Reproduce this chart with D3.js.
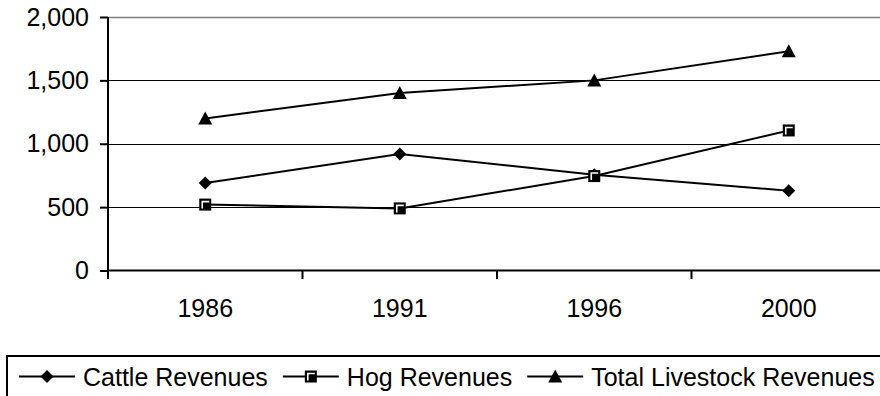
<!DOCTYPE html>
<html>
<head>
<meta charset="utf-8">
<script src="https://cdn.jsdelivr.net/npm/d3@7"></script>
<style>
  html, body { margin: 0; padding: 0; background: #fff; overflow: hidden; }
  svg { display: block; font-family: "Liberation Sans", Arial, Helvetica, sans-serif; }
</style>
</head>
<body>
<svg id="chart" width="880" height="396"></svg>
<script>
// Livestock revenues by census year
const years = ["1986", "1991", "1996", "2000"];
const cattleRevenues = [690, 920, 755, 630];
const hogRevenues = [520, 490, 745, 1105];
const totalLivestockRevenues = [1200, 1400, 1500, 1730];
const yTicks = [0, 500, 1000, 1500, 2000];
const seriesNames = ["Cattle Revenues", "Hog Revenues", "Total Livestock Revenues"];

(function () {
const svg = d3.select("#chart");
const W = 880;
const FS = 25;
const plotLeft = 108, plotRight = 886, plotTop = 17, plotBottom = 270.5;

const x = d3.scaleBand().domain(years).range([plotLeft, plotRight]).padding(0);
const y = d3.scaleLinear().domain([0, 2000]).range([plotBottom, plotTop]);
const fmt = d3.format(",");

// gridlines (top one is the gray plot-area border)
svg.append("g").selectAll("line").data(yTicks.filter(d => d > 0)).join("line")
  .attr("x1", plotLeft).attr("x2", W)
  .attr("y1", d => Math.round(y(d)) + 0.5).attr("y2", d => Math.round(y(d)) + 0.5)
  .attr("stroke", d => d === 2000 ? "#808080" : "#000")
  .attr("stroke-width", d => d === 2000 ? 1.6 : 1.1);

// y axis
const yAxis = svg.append("g").attr("transform", `translate(${plotLeft},0)`)
  .call(d3.axisLeft(y).tickValues(yTicks).tickFormat(fmt).tickSize(8).tickSizeOuter(0).tickPadding(11));
yAxis.select(".domain").remove();
yAxis.selectAll(".tick line").attr("stroke", "#000").attr("stroke-width", 2);
yAxis.selectAll("text").attr("font-size", FS).attr("fill", "#000")
  .attr("font-family", "'Liberation Sans', Arial, sans-serif");
svg.append("line").attr("x1", plotLeft).attr("x2", plotLeft).attr("y1", plotTop).attr("y2", plotBottom + 8.5)
  .attr("stroke", "#000").attr("stroke-width", 2);

// x axis with ticks at category boundaries
svg.append("line").attr("x1", plotLeft).attr("x2", W).attr("y1", plotBottom).attr("y2", plotBottom)
  .attr("stroke", "#000").attr("stroke-width", 2);
const bounds = years.slice(1).map(d => x(d));
svg.append("g").selectAll("line").data(bounds).join("line")
  .attr("x1", d => d).attr("x2", d => d).attr("y1", plotBottom).attr("y2", plotBottom + 8.5)
  .attr("stroke", "#000").attr("stroke-width", 2);
svg.append("g").selectAll("text").data(years).join("text")
  .attr("x", d => x(d) + x.bandwidth() / 2).attr("y", 317)
  .attr("text-anchor", "middle").attr("font-size", FS).attr("fill", "#000")
  .text(d => d);

// markers
function drawMarker(g, type, cx, cy) {
  if (type === "diamond") {
    g.append("path").attr("d", `M${cx},${cy - 6.5}L${cx + 6.5},${cy}L${cx},${cy + 6.5}L${cx - 6.5},${cy}Z`)
      .attr("fill", "#000");
  } else if (type === "square") {
    g.append("rect").attr("x", cx - 6).attr("y", cy - 6).attr("width", 12).attr("height", 12).attr("fill", "#000");
    g.append("path").attr("d", `M${cx - 3},${cy + 4}V${cy - 3}H${cx + 4}`)
      .attr("fill", "none").attr("stroke", "#fff").attr("stroke-width", 1.6);
  } else {
    g.append("path").attr("d", `M${cx},${cy - 7}L${cx + 7},${cy + 6}L${cx - 7},${cy + 6}Z`)
      .attr("fill", "#000");
  }
}

const series = [
  { name: seriesNames[0], values: cattleRevenues, marker: "diamond" },
  { name: seriesNames[1], values: hogRevenues, marker: "square" },
  { name: seriesNames[2], values: totalLivestockRevenues, marker: "triangle" }
];

const line = d3.line().x((d, i) => x(years[i]) + x.bandwidth() / 2).y(d => y(d));
series.forEach(s => {
  const g = svg.append("g");
  g.append("path").datum(s.values).attr("d", line)
    .attr("fill", "none").attr("stroke", "#000").attr("stroke-width", 2);
  s.values.forEach((v, i) => drawMarker(g, s.marker, x(years[i]) + x.bandwidth() / 2, y(v)));
});

// legend
const legend = svg.append("g");
legend.append("rect").attr("x", 7).attr("y", 356).attr("width", 900).attr("height", 60)
  .attr("fill", "none").attr("stroke", "#000").attr("stroke-width", 2);
const ly = 376.5;
let lx = 19;
series.forEach(s => {
  legend.append("line").attr("x1", lx).attr("x2", lx + 56).attr("y1", ly).attr("y2", ly)
    .attr("stroke", "#000").attr("stroke-width", 2);
  drawMarker(legend, s.marker, lx + 28, ly);
  const t = legend.append("text").attr("x", lx + 64).attr("y", ly + 9)
    .attr("font-size", FS).attr("fill", "#000").text(s.name);
  lx = lx + 64 + t.node().getComputedTextLength() + 15;
});
})();
</script>
</body>
</html>
